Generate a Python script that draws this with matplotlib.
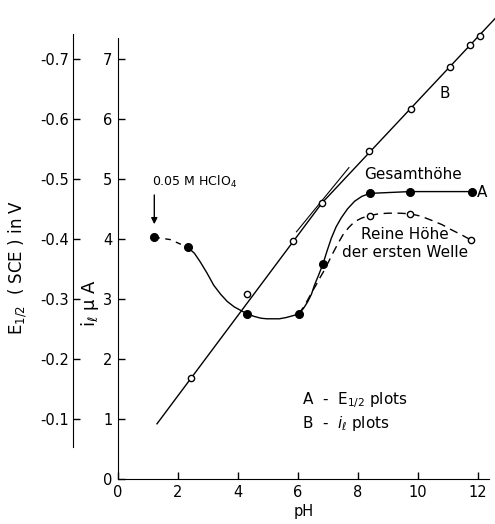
import matplotlib.pyplot as plt

plt.rcParams['font.family'] = ['DejaVu Sans']
plt.rcParams['mathtext.fontset'] = 'dejavusans'

# B: limiting current i_l (open circles) and its straight line (bends at pH ~6.8)
b_ph = [2.44, 4.31, 5.85, 6.80, 8.36, 9.77, 11.06, 11.72, 12.06]
b_i = [1.68, 3.08, 3.96, 4.60, 5.46, 6.17, 6.87, 7.23, 7.39]
b_line_ph = [1.30, 6.80, 12.62]
b_line_i = [0.92, 4.60, 7.70]
tangent_ph = [5.95, 7.70]
tangent_i = [4.12, 5.19]

# A: E1/2 (filled circles), i scale = -10 * E1/2
a_ph = [1.21, 2.33, 4.31, 6.02, 6.83, 8.39, 9.73, 11.80]
a_i = [4.03, 3.86, 2.75, 2.75, 3.58, 4.76, 4.79, 4.79]

# hand-drawn curves
a_dash_ph = [1.21, 1.74, 2.33]
a_dash_i = [4.03, 3.99, 3.86]
a_curve_ph = [2.33, 2.55, 2.74, 2.97, 3.19, 3.42, 3.64, 3.87, 4.09, 4.31, 4.54, 4.76,
              4.96, 5.15, 5.38, 5.60, 5.82, 6.02, 6.18, 6.32, 6.45, 6.55, 6.69, 6.83,
              6.97, 7.11, 7.27, 7.44, 7.65, 7.89, 8.13, 8.39, 9.73, 11.80]
a_curve_i = [3.86, 3.76, 3.62, 3.43, 3.23, 3.08, 2.96, 2.87, 2.81, 2.75, 2.71, 2.68,
             2.67, 2.67, 2.67, 2.69, 2.72, 2.75, 2.84, 2.95, 3.08, 3.23, 3.40, 3.58,
             3.80, 4.01, 4.20, 4.35, 4.50, 4.63, 4.71, 4.76, 4.79, 4.79]
first_wave_ph = [6.02, 6.18, 6.32, 6.46, 6.60, 6.74, 6.88, 7.02, 7.16, 7.33, 7.50,
                 7.69, 7.89, 8.13, 8.39, 8.70, 9.01, 9.38, 9.74, 10.10, 10.46, 10.80,
                 11.13, 11.45, 11.78]
first_wave_i = [2.75, 2.86, 2.98, 3.11, 3.23, 3.36, 3.48, 3.62, 3.76, 3.92, 4.07,
                4.19, 4.29, 4.35, 4.39, 4.42, 4.43, 4.43, 4.42, 4.38, 4.31, 4.24,
                4.15, 4.07, 3.98]
first_wave_open_ph = [8.39, 9.74, 11.78]
first_wave_open_i = [4.39, 4.41, 3.98]

x_ticks = [0, 2, 4, 6, 8, 10, 12]
i_ticks = [0, 1, 2, 3, 4, 5, 6, 7]
e_ticks = [-0.1, -0.2, -0.3, -0.4, -0.5, -0.6, -0.7]

fig = plt.figure(figsize=(4.95, 5.24), dpi=100)
ax = fig.add_axes([0.2384, 0.0859, 0.7495, 0.8416])
ax.set_xlim(0, 12.37)
ax.set_ylim(0, 7.35)

lw = 1.0
ax.plot(b_line_ph, b_line_i, color='black', lw=lw, clip_on=False)
ax.plot(tangent_ph, tangent_i, color='black', lw=0.8)
ax.plot(b_ph, b_i, 'o', ms=4.5, mfc='white', mec='black', mew=1.0, clip_on=False)

ax.plot(a_dash_ph, a_dash_i, color='black', lw=lw, dashes=(4, 4))
ax.plot(a_curve_ph, a_curve_i, color='black', lw=lw)
ax.plot(first_wave_ph, first_wave_i, color='black', lw=lw, dashes=(6, 4))
ax.plot(a_ph, a_i, 'o', ms=5.5, color='black')
ax.plot(first_wave_open_ph, first_wave_open_i, 'o', ms=4.5, mfc='white', mec='black', mew=1.0)

ax.annotate('', xy=(1.21, 4.2), xytext=(1.21, 4.78),
            arrowprops=dict(arrowstyle='-|>', color='black', lw=1.0, mutation_scale=9))
ax.text(1.12, 4.95, '0.05 M HClO$_4$', fontsize=9, ha='left', va='center')
ax.text(9.85, 5.07, 'Gesamthöhe', fontsize=11, ha='center', va='center')
ax.text(11.97, 4.78, 'A', fontsize=11, ha='left', va='center')
ax.text(10.9, 6.42, 'B', fontsize=11, ha='center', va='center')
ax.text(9.57, 4.07, 'Reine Höhe', fontsize=11, ha='center', va='center')
ax.text(9.58, 3.78, 'der ersten Welle', fontsize=11, ha='center', va='center')
ax.text(6.15, 1.32, 'A  -  E$_{1/2}$ plots', fontsize=11, ha='left', va='center')
ax.text(6.15, 0.93, 'B  -  $i_{\\ell}$ plots', fontsize=11, ha='left', va='center')

for s in ['top', 'right']:
    ax.spines[s].set_visible(False)
ax.set_xticks(x_ticks)
ax.set_yticks(i_ticks)
ax.tick_params(direction='in', length=5, width=1, labelsize=10.5, pad=4)
ax.set_xlabel('pH', fontsize=10.5, labelpad=3)
ax.set_ylabel('i$_{\\ell}$ µ A', fontsize=13)
ax.yaxis.set_label_coords(-0.045, 0.40)

# outer E1/2 axis, same scale (-0.1 V per unit of i)
ax2 = fig.add_axes([0.1475, 0.0859, 0.001, 0.8416 * 7.5 / 7.35])
ax2.set_ylim(0, -0.75)
ax2.patch.set_visible(False)
for s in ['top', 'right', 'bottom']:
    ax2.spines[s].set_visible(False)
ax2.spines['left'].set_bounds(-0.053, -0.742)
ax2.set_xticks([])
ax2.set_yticks(e_ticks)
ax2.set_yticklabels(['-%.1f' % abs(v) for v in e_ticks])
ax2.tick_params(direction='in', length=5, width=1, labelsize=10.5, pad=3)
ax2.set_ylabel('E$_{1/2}$  ( SCE ) in V', fontsize=12, labelpad=8)
ax2.yaxis.label.set_y(0.47)

fig.savefig('out.png', dpi=100)
